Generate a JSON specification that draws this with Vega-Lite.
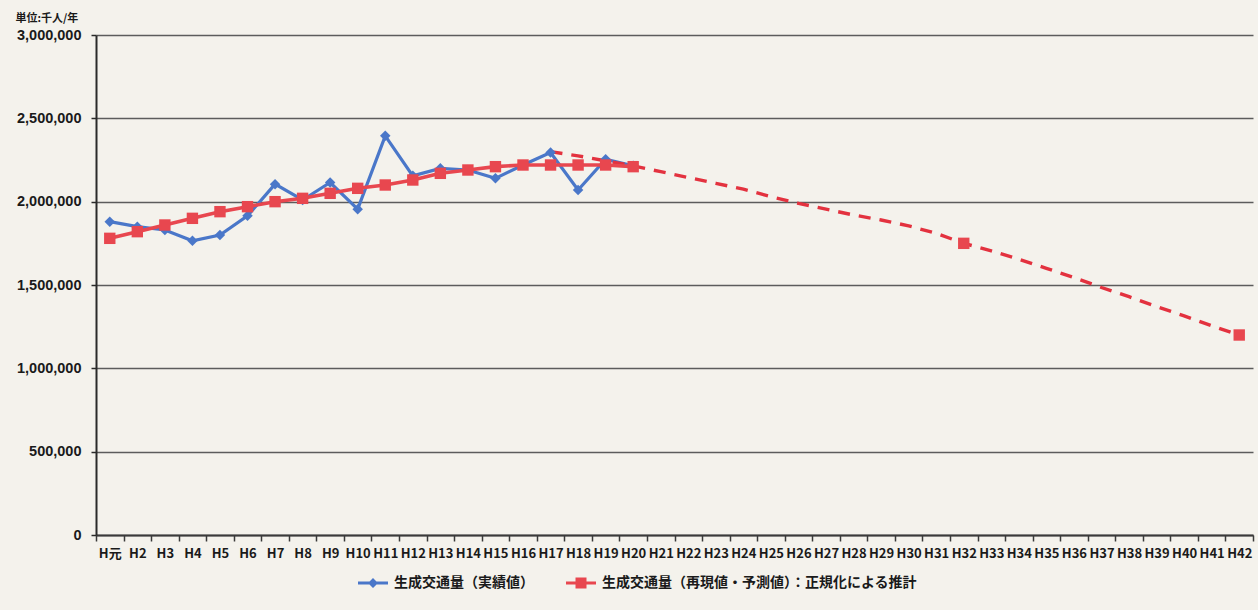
{
  "$schema": "https://vega.github.io/schema/vega-lite/v6.json",
  "width": 1157,
  "height": 500,
  "autosize": {"type": "none"},
  "padding": {"left": 96, "top": 35, "right": 5, "bottom": 75},
  "background": "#f4f2ec",
  "config": {
    "view": {"stroke": null},
    "font": "Liberation Sans, Noto Sans CJK JP, sans-serif",
    "legend": {
      "orient": "none",
      "legendX": 270,
      "legendY": 541,
      "direction": "horizontal",
      "title": null,
      "labelFont": "Noto Sans CJK JP, sans-serif",
      "labelFontSize": 14,
      "labelFontWeight": "bold",
      "labelColor": "#1a1a1a",
      "labelOffset": 14,
      "columnPadding": 32,
      "symbolSize": 100,
      "symbolStrokeWidth": 0,
      "labelLimit": 0
    }
  },
  "datasets": {
    "actual": [
      {"year": "H元", "value": 1880000},
      {"year": "H2", "value": 1850000},
      {"year": "H3", "value": 1830000},
      {"year": "H4", "value": 1765000},
      {"year": "H5", "value": 1800000},
      {"year": "H6", "value": 1915000},
      {"year": "H7", "value": 2105000},
      {"year": "H8", "value": 2010000},
      {"year": "H9", "value": 2115000},
      {"year": "H10", "value": 1955000},
      {"year": "H11", "value": 2395000},
      {"year": "H12", "value": 2155000},
      {"year": "H13", "value": 2200000},
      {"year": "H14", "value": 2190000},
      {"year": "H15", "value": 2140000},
      {"year": "H16", "value": 2220000},
      {"year": "H17", "value": 2295000},
      {"year": "H18", "value": 2070000},
      {"year": "H19", "value": 2255000},
      {"year": "H20", "value": 2215000}
    ],
    "reproduced": [
      {"year": "H元", "value": 1780000},
      {"year": "H2", "value": 1820000},
      {"year": "H3", "value": 1860000},
      {"year": "H4", "value": 1900000},
      {"year": "H5", "value": 1940000},
      {"year": "H6", "value": 1970000},
      {"year": "H7", "value": 2000000},
      {"year": "H8", "value": 2020000},
      {"year": "H9", "value": 2050000},
      {"year": "H10", "value": 2080000},
      {"year": "H11", "value": 2100000},
      {"year": "H12", "value": 2130000},
      {"year": "H13", "value": 2170000},
      {"year": "H14", "value": 2190000},
      {"year": "H15", "value": 2210000},
      {"year": "H16", "value": 2220000},
      {"year": "H17", "value": 2220000},
      {"year": "H18", "value": 2220000},
      {"year": "H19", "value": 2220000},
      {"year": "H20", "value": 2210000}
    ],
    "forecast": [
      {"year": "H17", "value": 2300000},
      {"year": "H18", "value": 2275000},
      {"year": "H19", "value": 2245000},
      {"year": "H20", "value": 2215000},
      {"year": "H21", "value": 2180000},
      {"year": "H22", "value": 2145000},
      {"year": "H23", "value": 2110000},
      {"year": "H24", "value": 2075000},
      {"year": "H25", "value": 2030000},
      {"year": "H26", "value": 1990000},
      {"year": "H27", "value": 1955000},
      {"year": "H28", "value": 1920000},
      {"year": "H29", "value": 1890000},
      {"year": "H30", "value": 1855000},
      {"year": "H31", "value": 1810000},
      {"year": "H32", "value": 1750000},
      {"year": "H33", "value": 1705000},
      {"year": "H34", "value": 1655000},
      {"year": "H35", "value": 1600000},
      {"year": "H36", "value": 1545000},
      {"year": "H37", "value": 1485000},
      {"year": "H38", "value": 1430000},
      {"year": "H39", "value": 1370000},
      {"year": "H40", "value": 1315000},
      {"year": "H41", "value": 1255000},
      {"year": "H42", "value": 1200000}
    ]
  },
  "encoding": {
    "x": {
      "field": "year",
      "type": "ordinal",
      "scale": {
        "type": "band",
        "paddingInner": 0,
        "paddingOuter": 0,
        "domain": ["H元", "H2", "H3", "H4", "H5", "H6", "H7", "H8", "H9", "H10", "H11", "H12", "H13", "H14", "H15", "H16", "H17", "H18", "H19", "H20", "H21", "H22", "H23", "H24", "H25", "H26", "H27", "H28", "H29", "H30", "H31", "H32", "H33", "H34", "H35", "H36", "H37", "H38", "H39", "H40", "H41", "H42"]
      },
      "axis": {
        "title": null,
        "tickBand": "extent",
        "labelAngle": 0,
        "labelFont": "Liberation Sans Narrow, Noto Sans CJK JP, sans-serif",
        "labelFontSize": 13,
        "labelFontWeight": "bold",
        "labelColor": "#1a1a1a",
        "labelPadding": 6,
        "labelOverlap": false,
        "labelBound": false,
        "domainColor": "#3a3a3a",
        "domainWidth": 2,
        "tickColor": "#3a3a3a",
        "tickWidth": 1.5,
        "tickSize": 6,
        "grid": false
      }
    },
    "y": {
      "field": "value",
      "type": "quantitative",
      "scale": {"domain": [0, 3000000], "nice": false},
      "axis": {
        "values": [0, 500000, 1000000, 1500000, 2000000, 2500000, 3000000],
        "format": ",d",
        "grid": true,
        "gridColor": "#5c5c5c",
        "gridWidth": 1.6,
        "domainColor": "#2a2a2a",
        "domainWidth": 2,
        "tickColor": "#2a2a2a",
        "tickWidth": 1.5,
        "tickSize": 5,
        "labelPadding": 10,
        "labelFontSize": 14.5,
        "labelFontWeight": "bold",
        "labelColor": "#1a1a1a",
        "title": "単位:千人/年",
        "titleFont": "Noto Sans CJK JP, sans-serif",
        "titleFontSize": 11,
        "titleFontWeight": "bold",
        "titleColor": "#1a1a1a",
        "titleAngle": 0,
        "titleAlign": "left",
        "titleBaseline": "alphabetic",
        "titleX": -81,
        "titleY": -14
      }
    }
  },
  "layer": [
    {
      "data": {"name": "actual"},
      "mark": {"type": "line", "color": "#4a77c9", "strokeWidth": 3.2},
      "encoding": {}
    },
    {
      "data": {"name": "forecast"},
      "mark": {"type": "line", "color": "#e3323f", "strokeWidth": 3.4, "strokeDash": [12, 9]},
      "encoding": {}
    },
    {
      "data": {"name": "reproduced"},
      "mark": {"type": "line", "color": "#e8474f", "strokeWidth": 3.6},
      "encoding": {}
    },
    {
      "data": {"name": "actual"},
      "mark": {"type": "point", "shape": "diamond", "filled": true, "opacity": 1, "size": 110, "color": "#4a77c9"},
      "encoding": {}
    },
    {
      "data": {"name": "reproduced"},
      "mark": {"type": "point", "shape": "square", "filled": true, "opacity": 1, "size": 130, "color": "#e8474f"},
      "encoding": {}
    },
    {
      "data": {"name": "forecast"},
      "transform": [{"filter": "datum.year === 'H32' || datum.year === 'H42'"}],
      "mark": {"type": "point", "shape": "square", "filled": true, "opacity": 1, "size": 130, "color": "#e8474f"},
      "encoding": {}
    },
    {
      "data": {"name": "actual"},
      "mark": {"type": "point", "filled": true, "opacity": 0},
      "encoding": {
        "color": {"datum": "生成交通量（実績値）"},
        "shape": {"datum": "生成交通量（実績値）"}
      }
    },
    {
      "data": {"name": "reproduced"},
      "mark": {"type": "point", "filled": true, "opacity": 0},
      "encoding": {
        "color": {
          "datum": "生成交通量（再現値・予測値）：正規化による推計",
          "scale": {
            "domain": ["生成交通量（実績値）", "生成交通量（再現値・予測値）：正規化による推計"],
            "range": ["#4a77c9", "#e8474f"]
          }
        },
        "shape": {
          "datum": "生成交通量（再現値・予測値）：正規化による推計",
          "scale": {
            "domain": ["生成交通量（実績値）", "生成交通量（再現値・予測値）：正規化による推計"],
            "range": ["M-3,-0.3H3V0.3H-3Z M0,-1L1,0L0,1L-1,0Z", "M-3,-0.3H3V0.3H-3Z M-1.1,-1.1H1.1V1.1H-1.1Z"]
          }
        }
      }
    }
  ]
}
